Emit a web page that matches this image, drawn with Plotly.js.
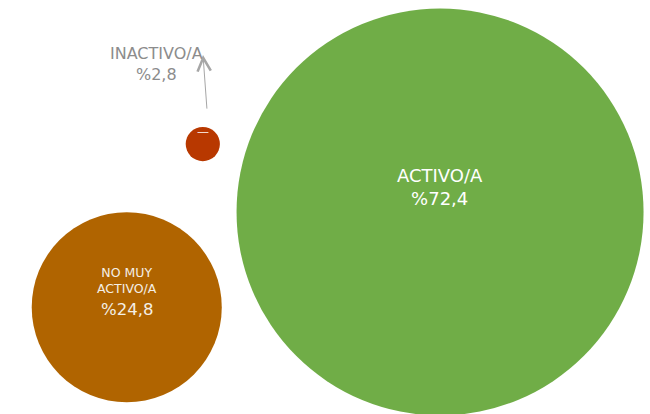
<!DOCTYPE html>
<html><head><meta charset="utf-8">
<script src="https://cdn.plot.ly/plotly-3.0.1.min.js"></script>
<style>html,body{margin:0;padding:0;background:#fff}#chart{width:650px;height:414px}</style>
</head><body><div id="chart"></div>
<script>
// Data
var categories = ["ACTIVO/A", "NO MUY ACTIVO/A", "INACTIVO/A"];
var percents = [72.4, 24.8, 2.8];
var bubbleX = [67.7, 19.5, 31.2];
var bubbleY = [48.8, 25.8, 65.2];
var bubbleSize = [100, 46.7, 8.4];
var colors = ["#70AD47", "#B06400", "#B83800"];

function fmt(v){ return "%" + v.toFixed(1).replace(".", ","); }

var trace = {
  type: "scatter", mode: "markers",
  x: bubbleX, y: bubbleY,
  marker: {size: bubbleSize, sizemode: "diameter", sizeref: 100/407, color: colors, opacity: 1, line: {width: 0}},
  cliponaxis: false, hoverinfo: "none"
};

var FONT = "DejaVu Sans";
function lab(i, txt, dx, dy, size, color){
  return {x: bubbleX[i], y: bubbleY[i], xref: "x", yref: "y", xshift: dx, yshift: dy,
          showarrow: false, text: txt, font: {family: FONT, size: size, color: color}};
}

var annotations = [
  lab(0, categories[0] + "<br>" + fmt(percents[0]), 0, 25, 18, "#FFFFFF"),
  lab(1, "NO MUY<br>ACTIVO/A", 0, 27, 12.5, "#F4EFE6"),
  lab(1, fmt(percents[1]), 0, -2, 16.5, "#F4EFE6"),
  lab(2, categories[2] + "<br>" + fmt(percents[2]), -46, 80, 16, "#8C8C8C"),
  {x: 31.23, y: 86.7, xref: "x", yref: "y", ax: 31.85, ay: 73.4, axref: "x", ayref: "y",
   text: "", showarrow: true, arrowhead: 5, arrowsize: 2.6, arrowwidth: 1, arrowcolor: "#A6A6A6"},
  lab(2, "—", 0, 12, 12, "#F2D8CC")
];

var layout = {
  width: 650, height: 414,
  margin: {l: 0, r: 0, t: 0, b: 0},
  paper_bgcolor: "#FFFFFF", plot_bgcolor: "#FFFFFF",
  showlegend: false,
  xaxis: {range: [0, 100], visible: false, fixedrange: true},
  yaxis: {range: [0, 100], visible: false, fixedrange: true},
  annotations: annotations
};

Plotly.newPlot("chart", [trace], layout, {displayModeBar: false, staticPlot: true});
</script></body></html>
